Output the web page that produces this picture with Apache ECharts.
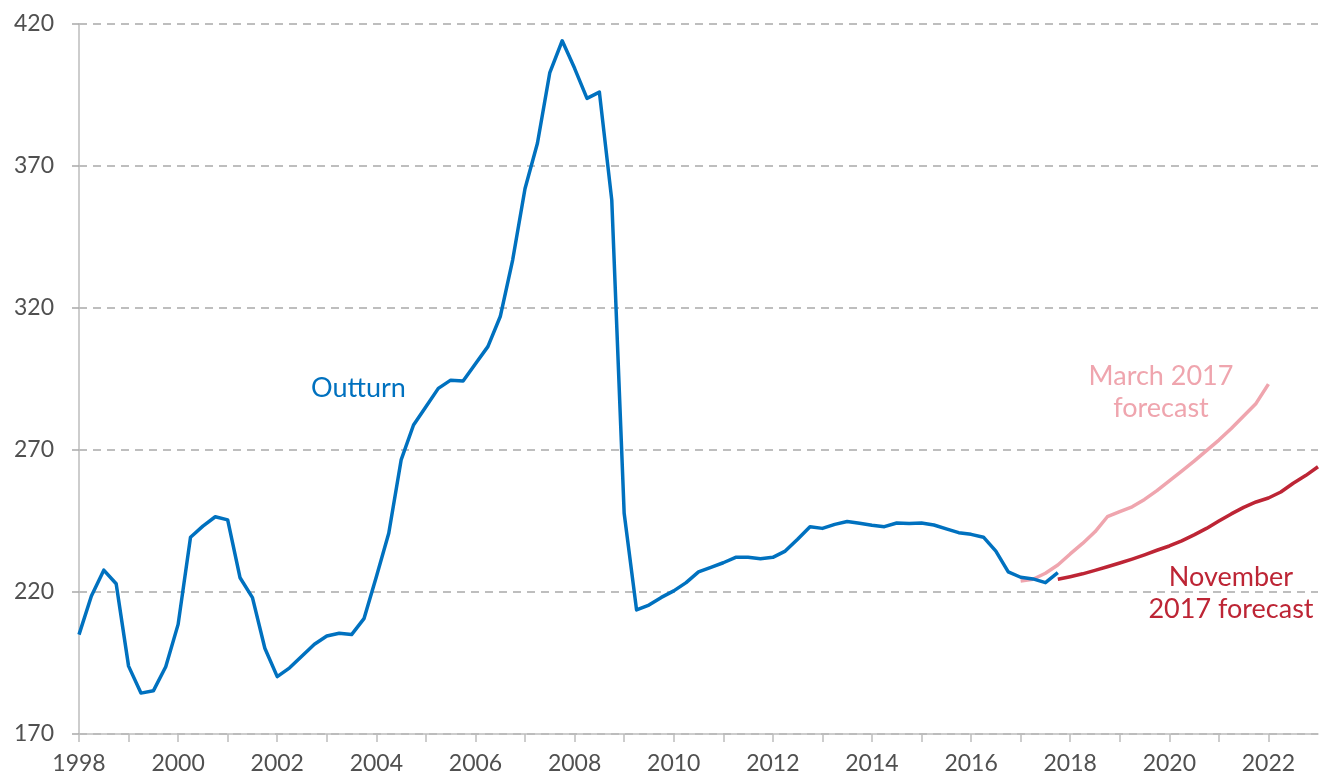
<!DOCTYPE html>
<html>
<head>
<meta charset="utf-8">
<title>Outturn and forecasts</title>
<script src="https://cdn.jsdelivr.net/npm/echarts@6.0.0/dist/echarts.min.js"></script>
<style>
    html, body { margin: 0; padding: 0; background: #fff; }
    #chart { width: 1327px; height: 779px; }
</style>
</head>
<body>
<div id="chart"></div>
<script>
// quarterly values, first point is Q1 of the start year
var outturnStart = 1998;
var outturn = [
    205, 218.6, 227.7, 222.9, 193.9, 184.4, 185.2, 193.7,
    208.6, 239.3, 243.2, 246.5, 245.4, 225, 218, 200.2,
    190.2, 193.3, 197.5, 201.6, 204.5, 205.5, 205, 210.6,
    225.4, 240.7, 266.5, 278.8, 285.2, 291.7, 294.6, 294.3,
    300.4, 306.4, 317, 336.9, 362.1, 378, 402.9, 414.1,
    404.4, 393.8, 396, 358, 247.7, 213.7, 215.4, 218.1,
    220.4, 223.3, 227.1, 228.7, 230.3, 232.2, 232.2, 231.7,
    232.2, 234.4, 238.6, 243, 242.4, 243.8, 244.8, 244.2,
    243.5, 243, 244.3, 244.1, 244.3, 243.6, 242.2, 240.9,
    240.3, 239.3, 234.4, 227.1, 225.2, 224.6, 223.3, 226.8
];

var marchStart = 2017;
var marchForecast = [
    223.9, 224.5, 226.6, 229.5, 233.4, 237.1, 241.2, 246.5,
    248.3, 250, 252.6, 255.7, 259.1, 262.6, 266.1, 269.8,
    273.5, 277.6, 282, 286.4, 293.2
];

var novStart = 2017.75;
var novForecast = [
    224.5, 225.4, 226.4, 227.6, 228.9, 230.2, 231.6, 233.1,
    234.7, 236.2, 238, 240.1, 242.4, 245, 247.5, 249.8,
    251.7, 253.1, 255.2, 258.3, 261, 264.1
];

var yearMin = 1998, yearMax = 2023;
var yMin = 170, yMax = 420, yStep = 50;

var colors = {
    outturn: '#0071bf',
    march: '#efa5ae',
    nov: '#bd2535',
    label: '#505050',
    grid: '#a9a9a9',
    axis: '#bdbdbd'
};
var fontName = 'Lato, "Open Sans", sans-serif';

function toPoints(start, values) {
    var pts = [];
    for (var i = 0; i < values.length; i++) {
        pts.push([start + i / 4, values[i]]);
    }
    return pts;
}

function lineSeries(name, start, values, color, z) {
    return {
        name: name,
        type: 'line',
        data: toPoints(start, values),
        showSymbol: false,
        symbol: 'none',
        z: z,
        lineStyle: { color: color, width: 3.5, join: 'round' }
    };
}

var chart = echarts.init(document.getElementById('chart'));
chart.setOption({
    animation: false,
    grid: { left: 79, right: 9, top: 24, bottom: 45, containLabel: false },
    xAxis: {
        type: 'value',
        min: yearMin,
        max: yearMax,
        interval: 1,
        axisLine: { show: true, lineStyle: { color: colors.axis, width: 1.5 } },
        axisTick: { show: true, length: 8, lineStyle: { color: colors.axis, width: 1.5 } },
        axisLabel: {
            margin: 18,
            color: colors.label,
            fontSize: 23,
            fontFamily: fontName,
            showMaxLabel: false,
            formatter: function (v) {
                return (v % 2 === 0) ? String(v) : '';
            }
        },
        splitLine: { show: false }
    },
    yAxis: {
        type: 'value',
        min: yMin,
        max: yMax,
        interval: yStep,
        axisLine: { show: true, lineStyle: { color: colors.axis, width: 1.5 } },
        axisTick: { show: true, length: 7, lineStyle: { color: colors.grid, width: 1.5 } },
        axisLabel: {
            margin: 25,
            color: colors.label,
            fontSize: 23,
            fontFamily: fontName
        },
        splitLine: {
            show: true,
            lineStyle: { color: colors.grid, width: 1.5, type: [8, 6] }
        }
    },
    series: [
        lineSeries('March 2017 forecast', marchStart, marchForecast, colors.march, 2),
        lineSeries('Outturn', outturnStart, outturn, colors.outturn, 3),
        lineSeries('November 2017 forecast', novStart, novForecast, colors.nov, 4)
    ],
    graphic: [
        {
            type: 'text',
            style: {
                text: 'Outturn',
                x: 311, y: 388,
                textAlign: 'left', textVerticalAlign: 'middle',
                fill: colors.outturn,
                font: '27px ' + fontName
            }
        },
        {
            type: 'text',
            style: {
                text: 'March 2017\nforecast',
                x: 1161, y: 392,
                textAlign: 'center', textVerticalAlign: 'middle',
                lineHeight: 32,
                fill: colors.march,
                font: '27px ' + fontName
            }
        },
        {
            type: 'text',
            style: {
                text: 'November\n2017 forecast',
                x: 1231, y: 593,
                textAlign: 'center', textVerticalAlign: 'middle',
                lineHeight: 32,
                fill: colors.nov,
                font: '27px ' + fontName
            }
        }
    ]
});
</script>
</body>
</html>
